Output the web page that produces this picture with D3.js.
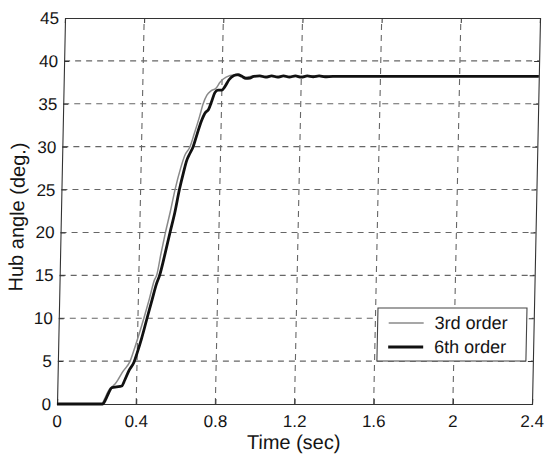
<!DOCTYPE html>
<html>
<head>
<meta charset="utf-8">
<script src="https://cdn.jsdelivr.net/npm/d3@7"></script>
<style>
  html, body { margin: 0; padding: 0; background: #fff; }
  svg { display: block; }
  text { font-family: "Liberation Sans", Arial, sans-serif; fill: #151515; }
</style>
</head>
<body>
<svg id="chart" width="545" height="458"></svg>
<script>
// Hub angle step response: 3rd order vs 6th order model
const time3 = [0, 0.225, 0.24, 0.26, 0.275, 0.29, 0.31, 0.33, 0.365, 0.39, 0.43, 0.455, 0.48, 0.49, 0.51, 0.53, 0.553, 0.574, 0.60, 0.62, 0.645, 0.665, 0.69, 0.707, 0.725, 0.745, 0.77, 0.79, 0.82, 0.86, 0.89, 0.92, 0.95, 1.0, 2.4];
const angle3 = [0, 0, 0.6, 1.6, 2.0, 2.3, 3.0, 3.8, 5.0, 6.8, 10, 12.2, 14.5, 15, 17.6, 20, 22.5, 25, 27.5, 29, 30, 31.5, 33.5, 35, 36, 36.5, 36.8, 37.5, 38.1, 38.35, 38.25, 38.1, 38.2, 38.2, 38.2];

const time6 = [0, 0.23, 0.245, 0.26, 0.275, 0.30, 0.325, 0.34, 0.36, 0.385, 0.40, 0.42, 0.446, 0.47, 0.49, 0.505, 0.53, 0.553, 0.575, 0.596, 0.615, 0.63, 0.645, 0.661, 0.68, 0.70, 0.72, 0.734, 0.75, 0.765, 0.78, 0.80, 0.815, 0.835, 0.86, 0.88, 0.90, 0.92, 0.94, 0.96, 0.99, 1.02, 1.05, 1.08, 1.11, 1.14, 1.17, 1.20, 1.23, 1.26, 1.29, 1.32, 1.36, 2.4];
const angle6 = [0, 0, 0.5, 1.3, 1.9, 2.0, 2.1, 2.8, 3.9, 4.9, 6.0, 7.6, 10, 12.2, 14, 15, 17.5, 20, 22.3, 25, 27, 28.4, 29.2, 30, 31.5, 33, 34, 34.3, 35.3, 36.3, 36.6, 36.6, 37, 37.8, 38.3, 38.4, 38.2, 37.95, 38.0, 38.2, 38.25, 38.1, 38.25, 38.1, 38.25, 38.1, 38.25, 38.1, 38.25, 38.15, 38.25, 38.15, 38.2, 38.2];

const xTicks = [0, 0.4, 0.8, 1.2, 1.6, 2, 2.4];
const xTickLabels = ["0", "0.4", "0.8", "1.2", "1.6", "2", "2.4"];
const yTicks = [0, 5, 10, 15, 20, 25, 30, 35, 40, 45];
const seriesNames = ["3rd order", "6th order"];

const plotLeft = 57, plotRight = 532, plotTop = 18, plotBottom = 404;

const svg = d3.select("#chart");
// the whole figure leans slightly to the right at the top
const g = svg.append("g")
  .attr("transform", `translate(0,${plotBottom}) skewX(-1.19) translate(0,${-plotBottom})`);

const x = d3.scaleLinear().domain([0, 2.4]).range([plotLeft, plotRight]);
const y = d3.scaleLinear().domain([0, 45]).range([plotBottom, plotTop]);

// dashed grid
const grid = g.append("g").attr("stroke", "#666").attr("stroke-width", 1.1)
  .attr("stroke-dasharray", "6,5");
grid.selectAll(".gx").data(xTicks.slice(1, -1)).join("line")
  .attr("x1", d => x(d)).attr("x2", d => x(d))
  .attr("y1", plotBottom).attr("y2", plotTop);
grid.selectAll(".gy").data(yTicks.slice(1, -1)).join("line")
  .attr("y1", d => y(d)).attr("y2", d => y(d))
  .attr("x1", plotLeft).attr("x2", plotRight);

// axes with inward ticks
const axB = g.append("g").attr("transform", `translate(0,${plotBottom})`)
  .call(d3.axisBottom(x).tickValues(xTicks).tickSize(-5).tickPadding(11)
    .tickFormat((d, i) => xTickLabels[i]));
const axL = g.append("g").attr("transform", `translate(${plotLeft},0)`)
  .call(d3.axisLeft(y).tickValues(yTicks).tickSize(-5).tickPadding(6));
const axT = g.append("g").attr("transform", `translate(0,${plotTop})`)
  .call(d3.axisTop(x).tickValues(xTicks).tickSize(-5).tickFormat(""));
const axR = g.append("g").attr("transform", `translate(${plotRight},0)`)
  .call(d3.axisRight(y).tickValues(yTicks).tickSize(-5).tickFormat(""));
[axB, axL, axT, axR].forEach(a => {
  a.select(".domain").attr("stroke", "#333").attr("stroke-width", 1.1);
  a.selectAll(".tick line").attr("stroke", "#333");
  a.selectAll("text").attr("font-size", 17).attr("fill", "#151515")
    .attr("font-family", "Liberation Sans, Arial, sans-serif");
});

// curves
const line = d3.line().x(d => x(d[0])).y(d => y(d[1])).curve(d3.curveMonotoneX);
const data3 = time3.map((t, i) => [t, angle3[i]]);
const data6 = time6.map((t, i) => [t, angle6[i]]);
const plot = g.append("g");
plot.append("path").datum(data3).attr("d", line)
  .attr("fill", "none").attr("stroke", "#8a8a8a").attr("stroke-width", 1.5);
plot.append("path").datum(data6).attr("d", line)
  .attr("fill", "none").attr("stroke", "#111").attr("stroke-width", 2.8);

// axis titles
g.append("text").attr("x", x(1.2)).attr("y", 449).attr("text-anchor", "middle")
  .attr("font-size", 20).text("Time (sec)");
g.append("text").attr("transform", `translate(20,${(plotTop + plotBottom) / 2 + 6}) rotate(-90)`)
  .attr("text-anchor", "middle").attr("font-size", 20).text("Hub angle (deg.)");

// legend
const lg = g.append("g").attr("transform", "translate(376,308)");
lg.append("rect").attr("width", 149).attr("height", 53)
  .attr("fill", "#fff").attr("stroke", "#444").attr("stroke-width", 1.1);
const styles = [{ c: "#8a8a8a", w: 1.5 }, { c: "#111", w: 2.8 }];
seriesNames.forEach((name, i) => {
  const yy = 15 + i * 24;
  lg.append("line").attr("x1", 11).attr("x2", 46).attr("y1", yy).attr("y2", yy)
    .attr("stroke", styles[i].c).attr("stroke-width", styles[i].w);
  lg.append("text").attr("x", 57).attr("y", yy + 6).attr("font-size", 18).text(name);
});
</script>
</body>
</html>
